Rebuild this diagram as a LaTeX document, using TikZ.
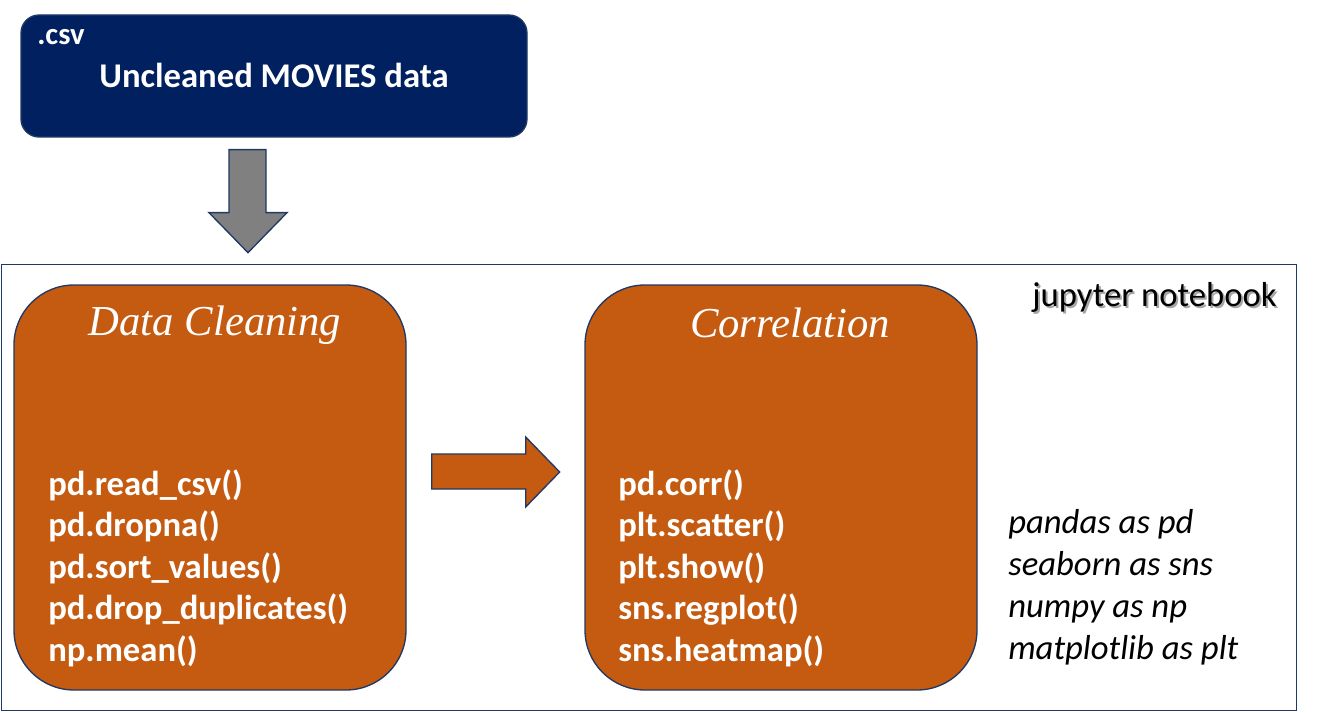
\documentclass[tikz,border=0pt]{standalone}
\usepackage{fontspec}
\setmainfont{Carlito}
\newfontfamily\titlefont{Liberation Serif}
\usetikzlibrary{calc}
\definecolor{navy}{RGB}{0,32,96}
\definecolor{edge}{RGB}{32,56,100}
\definecolor{orng}{RGB}{197,90,17}
\definecolor{arrowgray}{RGB}{128,128,128}
\begin{document}
\begin{tikzpicture}[x=0.75pt,y=-0.75pt,
  navybox/.style={draw=edge,line width=1pt,fill=navy,rounded corners=13.5pt,
    minimum width=379.5pt,minimum height=91.5pt,inner sep=0pt},
  orbox/.style={draw=edge,line width=1pt,fill=orng,rounded corners=45pt,
    minimum width=294pt,minimum height=303.75pt,inner sep=0pt},
  frame/.style={draw=edge,line width=1.4pt},
  blockarrow/.style={draw=edge,line width=1pt,line join=miter},
  title/.style={text=white,font=\titlefont\itshape\fontsize{32}{36}\selectfont,inner sep=0pt},
  listtxt/.style={text=white,font=\bfseries\fontsize{26}{31.1}\selectfont,align=left,inner sep=0pt,anchor=base west},
  head/.style={text=white,font=\bfseries\fontsize{26}{30}\selectfont,inner sep=0pt},
  note/.style={font=\itshape\fontsize{26}{31.5}\selectfont,align=left,inner sep=0pt,anchor=base west},
  jlabel/.style={font=\fontsize{26}{30}\selectfont,anchor=base east,inner sep=0pt},
]
\useasboundingbox (0,0) rectangle (1318,713);
% outer jupyter frame
\node[frame,minimum width=971.25pt,minimum height=334.5pt,inner sep=0pt] (nb) at (649,487.5) {};
% top source box
\node[navybox] (src) at (274,76) {};
\node[head,anchor=base west,font=\bfseries\fontsize{23}{26}\selectfont] (csv) at (37,45) {.csv};
\node[head,anchor=base] (srct) at (274,88) {Uncleaned MOVIES data};
% boxes
\node[orbox] (dc) at (210,487.5) {};
\node[orbox] (co) at (781,487.5) {};
\node[title,anchor=base] (dct) at (215,335) {Data Cleaning};
\node[title,anchor=base] (cot) at (790,337) {Correlation};
% multi-line nodes: base anchor is the baseline of the last line
\node[listtxt] (dcl) at (48,661) {pd.read\_csv()\\pd.dropna()\\pd.sort\_values()\\pd.drop\_duplicates()\\np.mean()};
\node[listtxt] (col) at (618,661) {pd.corr()\\plt.scatter()\\plt.show()\\sns.regplot()\\sns.heatmap()};
% jupyter label with shadow
\node[jlabel,text=black!35] at (1279,308) {jupyter notebook};
\node[jlabel] (jn) at (1277,306) {jupyter notebook};
\node[note] (imp) at (1008,659) {pandas as pd\\seaborn as sns\\numpy as np\\matplotlib as plt};
% down arrow from src to nb
\draw[blockarrow,fill=arrowgray]
  ($(src.south)+(-45,12)$) -- ($(src.south)+(-8,12)$) -- ($(src.south)+(-8,75)$) -- ($(src.south)+(13,75)$)
  -- ($(src.south)+(-26,115)$) -- ($(src.south)+(-65,75)$) -- ($(src.south)+(-45,75)$) -- cycle;
% right arrow from dc to co
\draw[blockarrow,fill=orng]
  ($(dc.east)+(25,-33.5)$) -- ($(dc.east)+(119,-33.5)$) -- ($(dc.east)+(119,-50.5)$) -- ($(dc.east)+(153,-15.5)$)
  -- ($(dc.east)+(119,19.5)$) -- ($(dc.east)+(119,1.5)$) -- ($(dc.east)+(25,1.5)$) -- cycle;
\end{tikzpicture}
\end{document}
